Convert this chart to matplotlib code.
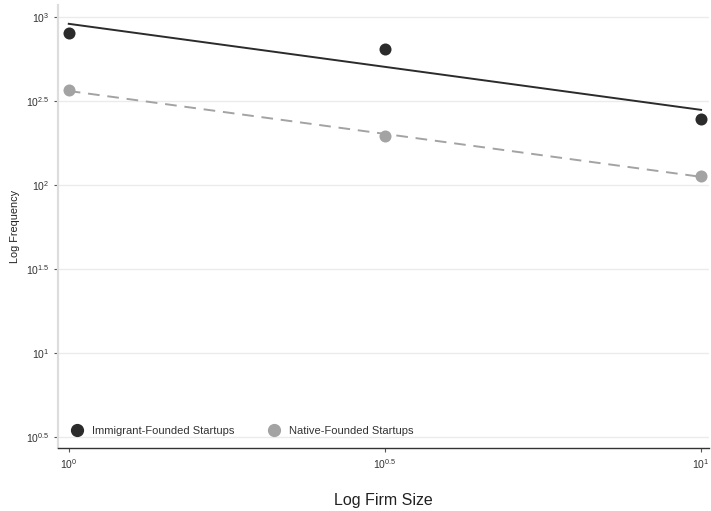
import numpy as np
import matplotlib
matplotlib.use("Agg")
import matplotlib.pyplot as plt
from matplotlib.lines import Line2D

plt.rcParams['font.family'] = ['Liberation Sans', 'DejaVu Sans']
plt.rcParams['mathtext.default'] = 'regular'

# log10 firm size and log10 frequency per group
log_size = [0.0, 0.5, 1.0]
immigrant_logfreq = [2.905, 2.81, 2.393]
native_logfreq = [2.565, 2.292, 2.054]

x_ticks = [0.0, 0.5, 1.0]
y_ticks = [0.5, 1.0, 1.5, 2.0, 2.5, 3.0]

imm_color = '#2b2b2b'
nat_color = '#a3a3a3'

fig = plt.figure(figsize=(7.11, 5.11), dpi=100)
ax = fig.add_axes([0.0816, 0.123, 0.916, 0.867])

# fitted power-law lines (linear fit in log-log space)
xs = np.array(log_size)
imm_fit = np.polyfit(xs, immigrant_logfreq, 1)
nat_fit = np.polyfit(xs, native_logfreq, 1)
ax.plot(xs, np.polyval(imm_fit, xs), color=imm_color, lw=1.4, zorder=2)
ax.plot(xs, np.polyval(nat_fit, xs), color=nat_color, lw=1.4, ls=(0, (6, 4)), zorder=2)

ax.scatter(log_size, immigrant_logfreq, s=75, color=imm_color, zorder=3, linewidths=0)
ax.scatter(log_size, native_logfreq, s=75, color=nat_color, zorder=3, linewidths=0)

ax.set_xlim(-0.017, 1.013)
ax.set_ylim(0.434, 3.07)
ax.set_xticks(x_ticks)
ax.set_yticks(y_ticks)

def fmt(v):
    s = ('%g' % v)
    return r'$10^{%s}$' % s

ax.set_xticklabels([fmt(v) for v in x_ticks])
ax.set_yticklabels([fmt(v) for v in y_ticks])
ax.tick_params(axis='both', labelsize=7.5, colors='#555555', labelcolor='#333333',
               length=3, width=0.8)

ax.yaxis.grid(True, color='#ebebeb', lw=1.0)
ax.set_axisbelow(True)
for side in ['top', 'right']:
    ax.spines[side].set_visible(False)
ax.spines['left'].set_color('#dddddd')
ax.spines['left'].set_linewidth(1.6)
ax.spines['bottom'].set_color('#333333')
ax.spines['bottom'].set_linewidth(1.0)

ax.set_xlabel('Log Firm Size', fontsize=11.5, color='#222222', labelpad=16)
ax.set_ylabel('Log Frequency', fontsize=7.8, color='#222222', labelpad=4)

handles = [
    Line2D([], [], marker='o', ls='none', color=imm_color, markersize=8.5),
    Line2D([], [], marker='o', ls='none', color=nat_color, markersize=8.5),
]
leg = ax.legend(handles, ['Immigrant-Founded Startups', 'Native-Founded Startups'],
                loc='lower left', bbox_to_anchor=(-0.007, 0.0), ncol=2, frameon=False,
                fontsize=8, handletextpad=0.35, columnspacing=2.6, borderaxespad=0.7)
for t in leg.get_texts():
    t.set_color('#333333')

fig.savefig('out.png', dpi=100)
